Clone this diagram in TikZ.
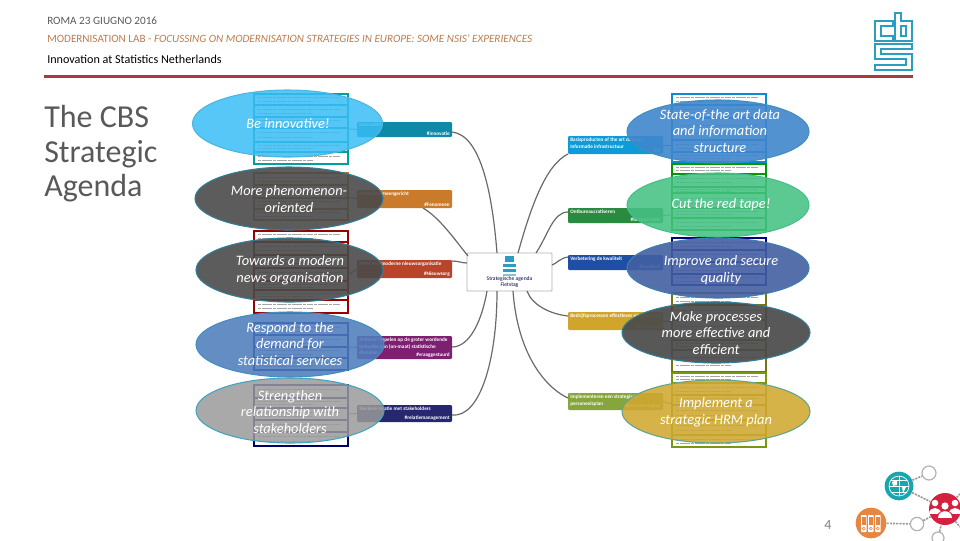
\documentclass[tikz,border=0pt]{standalone}
\usepackage{fontspec}
\setmainfont{Carlito}
\definecolor{rulered}{HTML}{A83A3F}
\definecolor{logoblue}{HTML}{2A9DC0}
\definecolor{linkgray}{HTML}{6A6A6A}
\definecolor{titlegray}{HTML}{595959}
\definecolor{labelorange}{HTML}{BF7A4C}
\tikzset{
 x=0.75pt,y=-0.75pt,
 elltext/.style={text=white,font=\fontsize{10.8}{12.4}\selectfont\itshape,align=center,inner sep=0pt},
 lab/.style={fill=#1,rounded corners=0.8pt,draw=none},
 labtext/.style={text=white,font=\fontsize{3.9}{4.6}\selectfont\bfseries,inner sep=0pt,align=left},
 link/.style={draw=linkgray,line width=0.9pt},
 stub/.style={draw=linkgray,line width=0.6pt},
 logo/.style={draw=logoblue,line width=1.3pt,fill=white,line join=miter},
 dotlink/.style={draw=gray!80,line width=1.2pt,dash pattern=on 1.6pt off 0.8pt},
 ring/.style={draw=gray!60,line width=0.9pt,fill=white,circle,inner sep=0pt},
}
\def\nonestr{none}
\newcommand{\stackrows}[4]{% x0, x1, colour, boundaries
 \foreach \yb [remember=\yb as \prevy (initially none)] in {#4}{%
  \ifx\prevy\nonestr\else
   \fill[white,draw=#3,line width=1pt] (#1,\prevy) rectangle (#2,\yb);
   \pgfmathsetmacro{\ya}{\prevy+0.33*(\yb-\prevy)}
   \pgfmathsetmacro{\yc}{\prevy+0.68*(\yb-\prevy)}
   \draw[gray!70,line width=0.6pt,dash pattern=on 2.4pt off 0.4pt] (#1+4,\ya) -- (#2-8,\ya);
   \draw[gray!70,line width=0.6pt,dash pattern=on 2.4pt off 0.4pt] (#1+4,\yc) -- (#2-34,\yc);
  \fi}%
}
\begin{document}
\begin{tikzpicture}
\useasboundingbox (0,0) rectangle (960,540);
% header
\node[anchor=west,inner sep=0pt,text=titlegray,font=\fontsize{8.4}{10}\selectfont] (h1) at (47,21) {ROMA 23 GIUGNO 2016};
\node[anchor=west,inner sep=0pt,text=labelorange,font=\fontsize{8.35}{10}\selectfont] (h2) at (47,39) {MODERNISATION LAB - \textit{FOCUSSING ON MODERNISATION STRATEGIES IN EUROPE: SOME NSIS' EXPERIENCES}};
\node[anchor=west,inner sep=0pt,text=black,font=\fontsize{9.1}{11}\selectfont] (h3) at (47,59) {Innovation at Statistics Netherlands};
\fill[rulered] (44,74.5) rectangle (913,77.5);
% logo
\draw[logo] (893,21)--(875,21)--(875,41)--(893,41)--(893,36)--(881,36)--(881,26)--(893,26)--cycle;
\draw[logo] (895,13)--(901,13)--(901,21)--(912,21)--(912,41)--(895,41)--cycle;
\draw[logo] (901,26) rectangle (906,36);
\draw[logo] (875,44)--(912,44)--(912,49)--(881,49)--(881,54)--(912,54)--(912,70)--(875,70)--(875,65)--(906,65)--(906,59)--(875,59)--cycle;
% title
\node[anchor=north west,inner sep=0pt,text=titlegray,align=left,font=\fontsize{24}{26}\selectfont] (title) at (44,105) {The CBS\\Strategic\\Agenda};
% stacks
\stackrows{254}{348}{black!25!teal!60!cyan}{94,105,117,128,142,152,164}
\stackrows{254}{348}{brown!90!black}{173,185,198,209,220}
\stackrows{254}{348}{red!60!black}{231,242,255,268,281,290,300,313}
\stackrows{254}{348}{blue!50!black}{323,335,347,358,370}
\stackrows{254}{348}{blue!40!black}{385,398,408,420,432,446}
\stackrows{672}{766}{cyan!70!blue}{94,105,118,140,152,162}
\stackrows{672}{766}{green!60!black}{164,174,187,193,208,218,230}
\stackrows{672}{766}{blue!50!black}{238,250,262,274,285}
\stackrows{672}{766}{olive!80!black}{293,305,320,340,350,372}
\stackrows{672}{766}{olive!70!green}{373,383,395,405,420,435,447}
% central box
\node[draw=gray!60,fill=white,line width=0.7pt,minimum width=63.75pt,minimum height=28.5pt,inner sep=0pt,rounded corners=0.5pt] (hub) at (509.5,272) {};
\fill[logoblue] (505,256) rectangle (514,262);
\fill[logoblue] (503,264) rectangle (516,267);
\fill[logoblue] (503,269) rectangle (516,272);
\fill[logoblue!60] (503,274) rectangle (516,276);
\node[inner sep=0pt,align=center,text=blue!30!black,font=\fontsize{4.2}{5}\selectfont] (hubt) at (509.5,282) {Strategische agenda\\Fietstag};
% label boxes
\foreach \nn/\xa/\ya/\xb/\yb/\cc in {
 l1/357/122/452/137/0E8AA8,l2/357/190/452/208/C97A2A,l3/357/260/452/278/B8442A,
 l4/357/336/452/359/7D2070,l5/357/405/452/422/26276E,
 r1/568/136/663/154/0F9BD7,r2/568/208/663/223/2A8A3F,r3/568/255/663/270/1F4FA5,
 r4/568/312/663/330/D1A52A,r5/568/393/663/410/86A53A}{
 \definecolor{tmpc}{HTML}{\cc}
 \pgfmathsetmacro{\boxw}{(\xb-\xa)*0.75}
 \pgfmathsetmacro{\boxh}{(\yb-\ya)*0.75}
 \node[lab=tmpc,minimum width=\boxw pt,minimum height=\boxh pt,inner sep=0pt,outer sep=0pt] (\nn) at ({(\xa+\xb)/2},{(\ya+\yb)/2}) {};
}
\node[labtext,anchor=north west] at (359,123) {Innovatief};
\node[labtext,anchor=south east] at (450,136) {\#innovatie};
\node[labtext,anchor=north west] at (359,192) {Meer fenomeengericht};
\node[labtext,anchor=south east] at (450,207) {\#Fenomeen};
\node[labtext,anchor=north west] at (359,262) {Meer een moderne nieuwsorganisatie};
\node[labtext,anchor=south east] at (450,277) {\#Nieuwsorg};
\node[labtext,anchor=north west] at (359,338) {Actiever inspelen op de groter wordende\\behoefte aan (on-maat) statistische\\diensten};
\node[labtext,anchor=south east] at (450,358) {\#vraaggestuurd};
\node[labtext,anchor=north west] at (359,407) {Sterkere relatie met stakeholders};
\node[labtext,anchor=south east] at (450,421) {\#relatiemanagement};
\node[labtext,anchor=north west] at (570,138) {Basisproducten of the art data en\\Informatie infrastructuur};
\node[labtext,anchor=south east] at (661,153) {\#IT};
\node[labtext,anchor=north west] at (570,210) {Ontbureaucratiseren};
\node[labtext,anchor=south east] at (661,222) {\#bureaucratie};
\node[labtext,anchor=north west] at (570,257) {Verbetering de kwaliteit};
\node[labtext,anchor=south east] at (661,269) {\#kwaliteit};
\node[labtext,anchor=north west] at (570,314) {Bedrijfsprocessen effectiever en efficiënter};
\node[labtext,anchor=south east] at (661,329) {\#Processen};
\node[labtext,anchor=north west] at (570,395) {Implementeren een strategisch\\personeelsplan};
\node[labtext,anchor=south east] at (661,409) {\#personeelsplan};
% connectors
\coordinate (l1o) at (452,132); \coordinate (l2o) at (423,208);
\coordinate (l3o) at (452,261);
\coordinate (l4o) at (452,347); \coordinate (l5o) at (452,415);
\coordinate (r1o) at (568,154); \coordinate (r2o) at (568,212);
\coordinate (r3o) at (568,257); \coordinate (r4o) at (568,316); \coordinate (r5o) at (568,398);
\coordinate (h1a) at (497,253); \coordinate (h2a) at (468,256); \coordinate (h3a) at (467,263);
\coordinate (h4a) at (487,291); \coordinate (h5a) at (497,291);
\coordinate (h6a) at (518,253); \coordinate (h7a) at (536,253); \coordinate (h8a) at (552,265);
\coordinate (h9a) at (527,291); \coordinate (h10a) at (513,291);
\draw[link] (l1o) .. controls (480,135) and (492,190) .. (h1a);
\draw[link] (l2o) .. controls (440,218) and (455,240) .. (h2a);
\draw[link] (l3o) .. controls (458,261) and (462,263) .. (h3a);
\draw[link] (l4o) .. controls (470,347) and (482,320) .. (h4a);
\draw[link] (l5o) .. controls (480,418) and (497,360) .. (h5a);
\draw[link] (r1o) .. controls (545,165) and (530,210) .. (h6a);
\draw[link] (r2o) .. controls (553,212) and (548,235) .. (h7a);
\draw[link] (r3o) .. controls (560,258) and (556,264) .. (h8a);
\draw[link] (r4o) .. controls (550,314) and (532,305) .. (h9a);
\draw[link] (r5o) .. controls (550,390) and (518,360) .. (h10a);
\draw[stub] (348,129) -- (l1.west);
\draw[stub] (348,197) -- (l2.west);
\draw[stub] (348,275) -- (l3.west);
\draw[stub] (348,347) -- (l4.west);
\draw[stub] (348,414) -- (l5.west);
\draw[stub] (r1.east) -- (672,145);
\draw[stub] (r2.east) -- (672,215);
\draw[stub] (r3.east) -- (672,262);
\draw[stub] (r4.east) -- (672,321);
\draw[stub] (r5.east) -- (672,404);
% overlay ellipses
\definecolor{e1}{HTML}{38BDF5}\definecolor{e2}{HTML}{4A4A4A}\definecolor{e4}{HTML}{4F7DBC}\definecolor{e5}{HTML}{9A9A9A}
\definecolor{e6}{HTML}{3F86CC}\definecolor{e7}{HTML}{45C184}\definecolor{e8}{HTML}{435FA2}\definecolor{e10}{HTML}{D0A830}
\foreach \nn/\cx/\cy/\rx/\ry/\ff/\op/\bb in {
 a/287.5/123.5/95/33.5/e1/0.85/4DB5E0,
 b/289/198.5/94/31.5/e2/0.9/2F7F99,
 c/289.5/270/93.5/32/e2/0.9/2F7F99,
 d/290/344.5/94/32.5/e4/0.88/3F8FC0,
 e/290/410.5/94/32.5/e5/0.85/3FA5BF,
 f/718/131.5/91/31.5/e6/0.9/3F8FC0,
 g/718/205/91/32/e7/0.88/45BF88,
 h/718/268/91/30/e8/0.9/3F7FB0,
 i/716/332.5/94/30.5/e2/0.92/2F7F99,
 j/716/411.5/94/31.5/e10/0.88/5FA58F}{
 \definecolor{bc}{HTML}{\bb}
 \fill[\ff,opacity=\op] (\cx,\cy) ellipse [x radius=\rx,y radius=\ry];
 \draw[bc,line width=0.8pt] (\cx,\cy) ellipse [x radius=\rx,y radius=\ry];
}
\node[elltext] (ta) at (288,124) {Be innovative!};
\node[elltext] (tb) at (289,199) {More phenomenon-\\oriented};
\node[elltext] (tc) at (290,270) {Towards a modern\\news organisation};
\node[elltext] (td) at (290,344) {Respond to the\\demand for\\statistical services};
\node[elltext] (te) at (290,412) {Strengthen\\relationship with\\stakeholders};
\node[elltext] (tf) at (720,131) {State-of-the art data\\and information\\structure};
\node[elltext] (tg) at (721,205) {Cut the red tape!};
\node[elltext] (th) at (721,270) {Improve and secure\\quality};
\node[elltext] (ti) at (716,333) {Make processes\\more effective and\\efficient};
\node[elltext] (tj) at (716,412) {Implement a\\strategic HRM plan};
% page number
\node[inner sep=0pt,text=gray,font=\fontsize{10.5}{12}\selectfont] (pg) at (828,525) {4};
% bottom-right decor
\definecolor{dteal}{HTML}{17A6AE}\definecolor{dorange}{HTML}{E58743}\definecolor{dred}{HTML}{D5213F}
\node[circle,fill=dteal,minimum size=21.5pt,inner sep=0pt] (globe) at (899,486) {};
\node[circle,fill=dorange,minimum size=23pt,inner sep=0pt] (bind) at (871,523) {};
\node[circle,fill=dred,minimum size=24pt,inner sep=0pt] (ppl) at (945,509) {};
\node[ring,minimum size=10.5pt] (r1c) at (929,473) {};
\node[ring,minimum size=10pt] (r2c) at (917,524) {};
\node[ring,minimum size=9pt] (r3c) at (938,538) {};
\coordinate (o1) at (960,494); \coordinate (o2) at (960,527);
\draw[dotlink] (globe) -- (r1c);
\draw[dotlink] (globe) -- (ppl);
\draw[dotlink] (bind) -- (r2c);
\draw[dotlink] (r2c) -- (ppl);
\draw[dotlink] (r3c) -- (ppl);
\draw[dotlink] (ppl) -- (o1);
\draw[dotlink] (ppl) -- (o2);
% globe icon
\draw[white,line width=0.5pt] (899,486) circle [radius=10];
\draw[white,line width=0.4pt] (889,486) -- (909,486) (899,476) -- (899,496) (891,480) -- (907,480) (891,492) -- (907,492);
\fill[white] (892,482) -- (897,480) -- (897,485) -- (893,486) -- cycle (902,487) -- (906,487) -- (903,493) -- cycle;
% binder icon
\foreach \bx in {861,868,875}{
 \fill[white,rounded corners=0.4pt] (\bx,515) rectangle (\bx+5.5,532);
 \fill[dorange] (\bx+1,517) rectangle (\bx+4.5,525);
 \draw[dorange,line width=0.4pt] (\bx+2.75,528.5) circle [radius=1.4];
}
% people icon
\foreach \px/\py/\rr in {935/503/3.3,955/503/3.3,945/506/3.6}{\fill[white] (\px,\py) circle [radius=\rr];}
\fill[white] (929,514) .. controls (929,506) and (941,506) .. (941,514) -- cycle;
\fill[white] (949,514) .. controls (949,506) and (961,506) .. (961,514) -- cycle;
\fill[dred] (936,519) .. controls (936,508) and (954,508) .. (954,519) -- cycle;
\fill[white] (938,518) .. controls (938,509) and (952,509) .. (952,518) -- cycle;
\end{tikzpicture}
\end{document}
